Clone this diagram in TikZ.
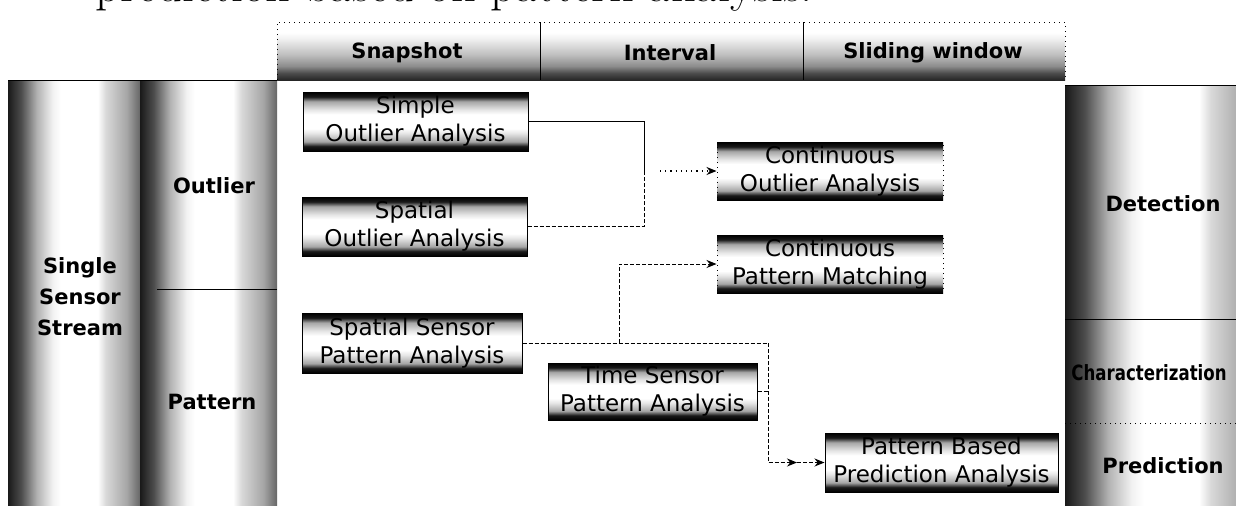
\documentclass[tikz,border=0pt]{standalone}
\usepackage{fontspec}
\usepackage{graphicx}
\newfontfamily\dvs{DejaVu Sans}
\usetikzlibrary{arrows.meta}
\pgfdeclareverticalshading{boxshade}{100bp}{color(0bp)=(black); color(25bp)=(black); color(29bp)=(black!90); color(33bp)=(black!35); color(40bp)=(black!10); color(44bp)=(white); color(56bp)=(white); color(60bp)=(black!10); color(67bp)=(black!35); color(71bp)=(black!90); color(75bp)=(black); color(100bp)=(black)}
\pgfdeclareverticalshading{headshade}{100bp}{color(0bp)=(black!85); color(25bp)=(black!85); color(31bp)=(black!70); color(37bp)=(black!45); color(47bp)=(black!25); color(61bp)=(black!5); color(66bp)=(white); color(100bp)=(white)}
\pgfdeclarehorizontalshading{colshade}{100bp}{color(0bp)=(black); color(25bp)=(black!90); color(30bp)=(black!70); color(36bp)=(black!30); color(42bp)=(black!5); color(45bp)=(white); color(59bp)=(white); color(62bp)=(black!15); color(70bp)=(black!35); color(75bp)=(black!60); color(100bp)=(black!60)}
\begin{document}
\begin{tikzpicture}[x=0.5pt,y=-0.5pt,
  lbl/.style={font=\dvs\bfseries\fontsize{10.5}{15.5}\selectfont, inner sep=0, align=center},
  abox/.style={draw=black, line width=0.5pt, shade, shading=boxshade, font=\dvs\fontsize{11.5}{14}\selectfont, align=center, inner sep=0, text=black},
  conn/.style={line width=0.5pt, dash pattern=on 2pt off 1pt},
  tip/.style={-{Stealth[length=5pt,width=4pt]}}
]
\useasboundingbox (0,0) rectangle (1236,505);
\fill[white] (0,0) rectangle (1236,505);
% clipped caption line at the top
\node[anchor=base west, inner sep=0, font=\fontsize{24.3}{29}\selectfont] (cap) at (95,1) {prediction based on pattern analysis.};
% header band
\shade[shading=headshade] (277,22) rectangle (1065,80);
\draw[dotted, line width=0.5pt] (277,80) -- (277,22) -- (1065,22) -- (1065,80);
\draw[line width=0.4pt] (540,22) -- (540,80);
\draw[line width=0.4pt] (803,22) -- (803,80);
\node[lbl] (h1) at (407,53) {Snapshot};
\node[lbl] (h2) at (670,53) {Interval};
\node[lbl] (h3) at (933,53) {Sliding window};
% left panel
\shade[shading=colshade] (8,80) rectangle (140,505);
\shade[shading=colshade] (140,80) rectangle (277,505);
\draw[line width=0.5pt] (8,80) -- (277,80);
\draw[line width=0.5pt] (157,289) -- (277,289);
\node[lbl] (l1) at (80,297) {Single\\Sensor\\Stream};
\node[lbl] (l2) at (214,186) {Outlier};
\node[lbl] (l3) at (212,402) {Pattern};
% right panel
\shade[shading=colshade] (1065,85) rectangle (1262,505);
\draw[line width=0.5pt] (1065,85) -- (1236,85);
\draw[line width=0.5pt] (1065,319) -- (1236,319);
\draw[dotted, line width=0.5pt] (1065,423) -- (1236,423);
\node[lbl] (r1) at (1163,204) {Detection};
\node[lbl] (r2) at (1149,373) {\scalebox{0.79}[1]{Characterization}};
\node[lbl] (r3) at (1163,466) {Prediction};
% boxes
\node[abox, minimum width=112.5pt, minimum height=29.5pt] (s1) at (415.5,121.5) {Simple\\Outlier Analysis};
\node[abox, minimum width=112.5pt, minimum height=29.5pt] (s2) at (414.5,226.5) {Spatial\\Outlier Analysis};
\node[abox, minimum width=110pt, minimum height=30pt] (sp) at (412,343) {Spatial Sensor\\Pattern Analysis};
\node[abox, minimum width=104.5pt, minimum height=28.5pt] (ts) at (652.5,391.5) {Time Sensor\\Pattern Analysis};
\node[abox, dotted, minimum width=113pt, minimum height=29pt] (co) at (830,171) {Continuous\\Outlier Analysis};
\node[abox, dotted, minimum width=113pt, minimum height=29pt] (cp) at (830,264) {Continuous\\Pattern Matching};
\node[abox, minimum width=116.5pt, minimum height=29.5pt] (pp) at (941.5,462.5) {Pattern Based\\Prediction Analysis};
% connectors
\coordinate (br) at (644,171);
\coordinate (a1) at (660,171);
\draw[line width=0.5pt] (s1.east) -| (br);
\draw[conn] (s2.east) -| (br);
\draw[dotted, line width=0.6pt, tip] (a1) -- (co.west);
\coordinate (j2) at (619,343);
\coordinate (j3) at (768,343);
\coordinate (j4) at (797,462.5);
\draw[conn] (sp.east) -- (j2) -- (j3);
\draw[conn, tip] (j2) |- (cp.west);
\draw[conn] (ts.east) -- (ts.east -| j3);
\draw[conn, tip] (j3) |- (j4);
\draw[conn, tip] (j4) -- (pp.west);
\end{tikzpicture}
\end{document}
